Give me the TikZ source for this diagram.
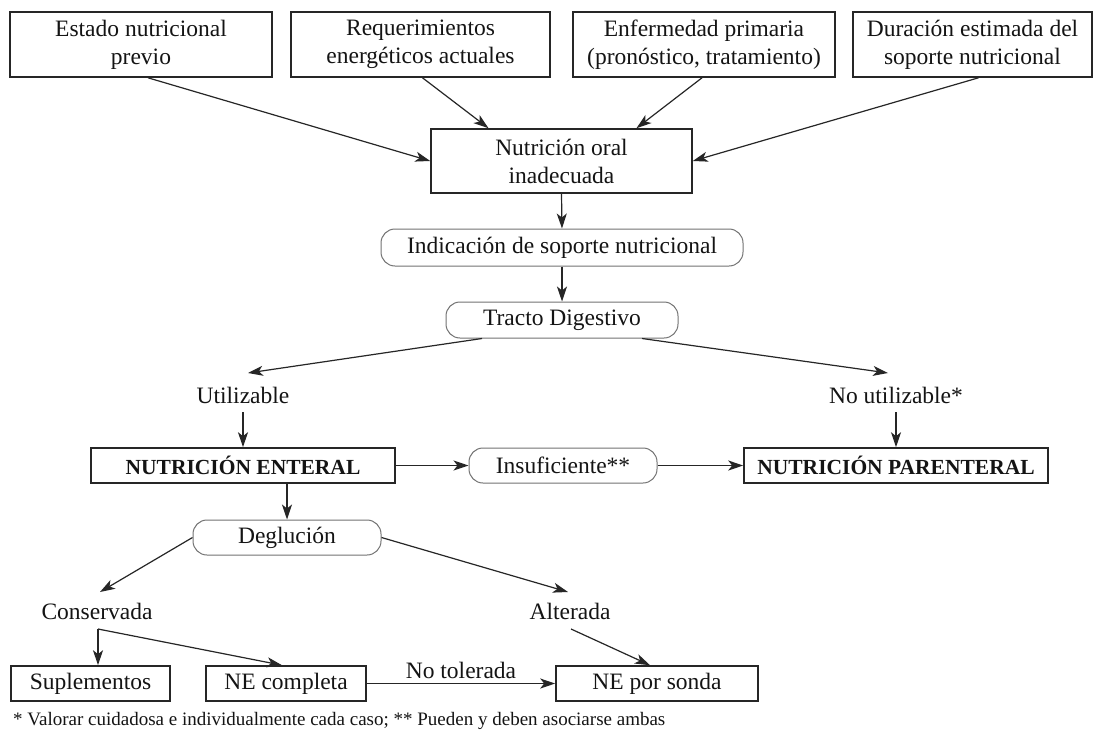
\documentclass[tikz,border=0pt]{standalone}
\usepackage{fontspec}
\setmainfont{Liberation Serif}
\usetikzlibrary{arrows.meta,calc}
\begin{document}
\begin{tikzpicture}[x=1pt,y=-1pt,
  every node/.style={font=\fontsize{23.5}{28}\selectfont, text=black!92, inner sep=0pt},
  sqbox/.style={draw=black!85, line width=1.6pt, align=center},
  rbox/.style={draw=black!55, line width=1pt, rounded corners=14pt},
  boldtxt/.style={font=\fontsize{21.5}{26}\selectfont\bfseries},
  arr/.style={draw=black!85, line width=1.2pt, -{Stealth[length=15pt,width=10pt,inset=4pt]}},
  note/.style={font=\fontsize{19}{22}\selectfont}
]
\useasboundingbox (0,0) rectangle (1100,744);
\fill[white] (0,0) rectangle (1100,744);

% top row
\node[sqbox, minimum width=262, minimum height=65] (b1) at (141,44.5) {Estado nutricional\\previo};
\node[sqbox, minimum width=259, minimum height=65] (b2) at (420.5,44.5) {Requerimientos\\energéticos actuales};
\node[sqbox, minimum width=262, minimum height=65] (b3) at (704,44.5) {Enfermedad primaria\\(pronóstico, tratamiento)};
\node[sqbox, minimum width=239, minimum height=65] (b4) at (972.5,44.5) {Duración estimada del\\soporte nutricional};

\node[sqbox, minimum width=261, minimum height=64] (nut) at (561.5,161) {Nutrición oral\\inadecuada};
\node[rbox, minimum width=362, minimum height=37] (ind) at (562,247.5) {Indicación de soporte nutricional};
\node[rbox, minimum width=232, minimum height=36] (tr) at (562,320) {Tracto Digestivo};

\node (util) at (243,395) {Utilizable};
\node (nu) at (896,395) {No utilizable*};

\node[sqbox, boldtxt, minimum width=304, minimum height=35] (ent) at (243,465.5) {NUTRICIÓN ENTERAL};
\node[rbox, minimum width=188, minimum height=35] (ins) at (563,465.5) {Insuficiente**};
\node[sqbox, boldtxt, minimum width=304, minimum height=35] (par) at (896,465.5) {NUTRICIÓN PARENTERAL};

\node[rbox, minimum width=188, minimum height=35] (deg) at (287,537.5) {Deglución};
\node (cons) at (97,611) {Conservada};
\node (alt) at (570,611) {Alterada};

\node[sqbox, minimum width=159, minimum height=35] (sup) at (90.5,683.5) {Suplementos};
\node[sqbox, minimum width=160, minimum height=35] (nec) at (286,683.5) {NE completa};
\node[sqbox, minimum width=202, minimum height=35] (son) at (657,683.5) {NE por sonda};

\node[note, anchor=west] (fn) at (13,721) {* Valorar cuidadosa e individualmente cada caso; ** Pueden y deben asociarse ambas};

% connectors
\draw[arr] ($(b1.south)+(7,0)$) -- (nut.west);
\draw[arr] ($(b2.south)+(2,0)$) -- ($(nut.north)+(-73,0)$);
\draw[arr] ($(b3.south)+(-2,0)$) -- ($(nut.north)+(75,0)$);
\draw[arr] ($(b4.south)+(6,0)$) -- (nut.east);

\draw[arr] (nut.south) -- (ind.north);
\draw[arr] (ind.south) -- (tr.north);

\draw[arr] ($(tr.south)+(-80,0)$) -- ($(util.center)+(5,-22)$);
\draw[arr] ($(tr.south)+(80,0)$) -- ($(nu.center)+(-8,-22)$);

\draw[arr] ($(util.center)+(0,17)$) -- (ent.north);
\draw[arr] ($(nu.center)+(0,17)$) -- (par.north);

\draw[arr] (ent.east) -- (ins.west);
\draw[arr] (ins.east) -- (par.west);

\draw[arr] ($(ent.south)+(44,0)$) -- (deg.north);
\draw[arr] (deg.west) -- ($(cons.center)+(3,-19)$);
\draw[arr] (deg.east) -- ($(alt.center)+(-2,-19)$);

\coordinate (cj) at ($(cons.center)+(1,18)$);
\draw[arr] (cj) -- ($(sup.north)+(7.5,0)$);
\draw[arr] (cj) -- ($(nec.north)+(-4,0)$);

\draw[arr] ($(alt.center)+(1,18)$) -- ($(son.north)+(-7,0)$);
\draw[arr] (nec.east) -- node[above=4pt] {No tolerada} (son.west);
\end{tikzpicture}
\end{document}
